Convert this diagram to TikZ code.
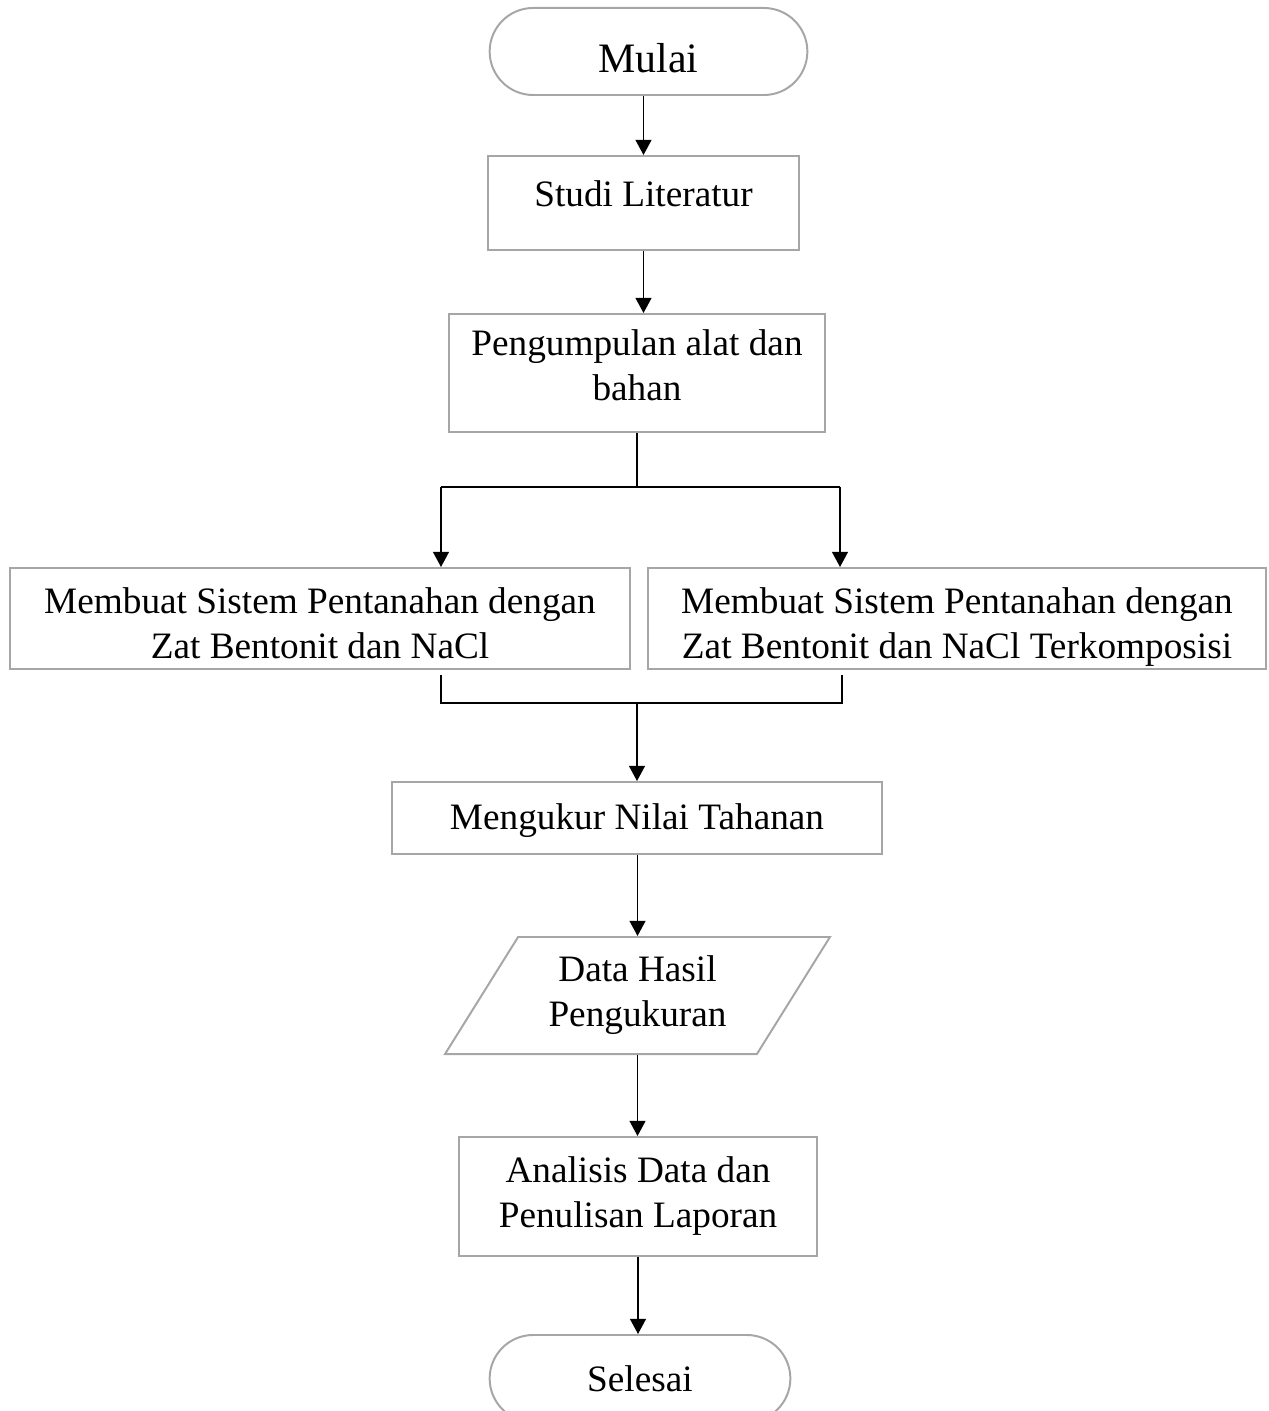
\documentclass[tikz,border=0pt]{standalone}
\usepackage{fontspec}
\setmainfont{Liberation Serif}
\usetikzlibrary{shapes.geometric, shapes.misc, arrows.meta}
\definecolor{abuabu}{HTML}{A6A6A6}
\tikzset{
  teks/.style={font=\fontsize{26.5}{32}\selectfont, align=center},
  proses/.style={draw=abuabu, line width=1.4pt, rectangle, inner sep=2pt, teks},
  terminal/.style={draw=abuabu, line width=1.4pt, rounded rectangle,
    minimum width=7.75cm, minimum height=2.175cm, teks},
  masukan/.style={draw=abuabu, line width=1.4pt, trapezium,
    trapezium left angle=57, trapezium right angle=123,
    trapezium stretches=true, minimum width=9.625cm, minimum height=2.925cm, teks},
  panah/.style={-{Triangle[length=0.38cm,width=0.4cm]}, line width=1pt},
  garis/.style={line width=1pt},
}
\newcommand{\turun}[1]{\rule{0pt}{#1}}
\newcommand{\naik}[1]{\rule[-#1]{0pt}{0pt}}

\begin{document}
\begin{tikzpicture}[x=0.025cm, y=-0.025cm]
\useasboundingbox (0,0) rectangle (1268,1411);

\node[terminal, minimum width=8.175cm, font=\fontsize{29.8}{36}\selectfont] (mulai) at (648.5,51.5) {\turun{30pt}Mulai};
\node[proses, minimum width=7.775cm, minimum height=2.35cm] (studi) at (643.5,203) {Studi Literatur\naik{14pt}};
\node[proses, minimum width=9.4cm, minimum height=2.95cm] (kumpul) at (637,373) {Pengumpulan alat dan\\bahan\naik{11pt}};
\node[proses, minimum width=15.5cm, minimum height=2.525cm] (kiri) at (320,618.5) {\turun{25pt}Membuat Sistem Pentanahan dengan\\Zat Bentonit dan NaCl};
\node[proses, minimum width=15.45cm, minimum height=2.525cm] (kanan) at (957,618.5) {\turun{30pt}Membuat Sistem Pentanahan dengan\\Zat Bentonit dan NaCl Terkomposisi};
\node[proses, minimum width=12.25cm, minimum height=1.8cm] (ukur) at (637,818) {\turun{22pt}Mengukur Nilai Tahanan};
\node[masukan] (data) at (637.5,995.5) {Data Hasil\\Pengukuran};
\node[proses, minimum width=8.95cm, minimum height=2.975cm] (analisis) at (638,1196.5) {Analisis Data dan\\Penulisan Laporan};
\node[terminal] (selesai) at (640,1378.5) {Selesai};

% cabang dan gabung
\coordinate (cabang) at (637,487);
\coordinate (cabangL) at (441,487);
\coordinate (cabangR) at (840,487);
\coordinate (gabung) at (637,703);
\coordinate (gabungL) at (441,703);
\coordinate (gabungR) at (842,703);

\draw[panah] (studi.north |- mulai.south) -- (studi.north);
\draw[panah] (studi.south) -- (studi.south |- kumpul.north);
\draw[garis] (kumpul.south) -- (cabang);
\draw[garis] (cabangL) -- (cabangR);
\draw[panah] (cabangL) -- (cabangL |- kiri.north);
\draw[panah] (cabangR) -- (cabangR |- kanan.north);
\draw[garis] ([yshift=-0.12cm]gabungL |- kiri.south) -- (gabungL) -- (gabungR) -- ([yshift=-0.12cm]gabungR |- kanan.south);
\draw[panah] (gabung) -- (gabung |- ukur.north);
\draw[panah] (ukur.south -| data.north) -- (data.north);
\draw[panah] (data.south) -- (data.south |- analisis.north);
\draw[panah] (analisis.south) -- (analisis.south |- selesai.north);

\end{tikzpicture}
\end{document}
